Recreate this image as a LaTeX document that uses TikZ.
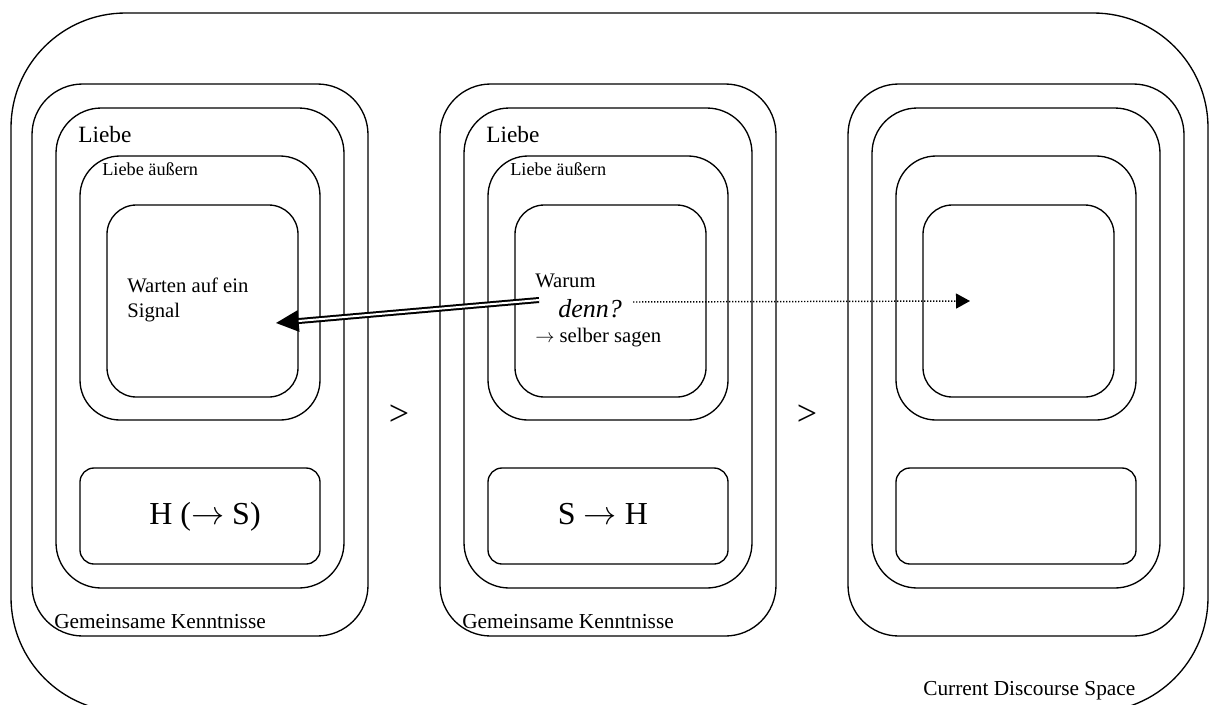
\documentclass[tikz,border=0pt]{standalone}
\usepackage{fontspec}
\setmainfont{Liberation Serif}
\usetikzlibrary{arrows.meta}

% sizes: 1 unit = 0.75pt, y grows downwards
\tikzset{
  frame/.style={draw, line width=1pt, rectangle, inner sep=0pt},
  spacebox/.style={frame, rounded corners=86pt, minimum width=897.75pt, minimum height=524.25pt},
  knowbox/.style={frame, rounded corners=38pt, minimum width=252pt, minimum height=414pt},
  lovebox/.style={frame, rounded corners=34pt, minimum width=216pt, minimum height=360pt},
  actbox/.style={frame, rounded corners=30pt, minimum width=180pt, minimum height=198pt},
  corebox/.style={frame, rounded corners=22pt, minimum width=143.25pt, minimum height=144pt},
  rolebox/.style={frame, rounded corners=10.5pt, minimum width=180pt, minimum height=72pt},
  lbl/.style={inner sep=0pt, anchor=base west},
  biglbl/.style={lbl, font=\fontsize{17.5}{21}\selectfont},
  smalllbl/.style={lbl, font=\fontsize{13.7}{16}\selectfont},
  midlbl/.style={lbl, font=\fontsize{15.5}{18.75}\selectfont},
  footlbl/.style={lbl, font=\fontsize{16}{19}\selectfont},
  rolelbl/.style={inner sep=0pt, anchor=base, font=\fontsize{24}{28}\selectfont},
  gt/.style={inner sep=0pt, font=\fontsize{27}{30}\selectfont},
  dblarrow/.style={line width=1.5pt, double distance=1.5pt, -{Triangle[length=17pt,width=16pt]}},
  dotarrow/.style={line width=1.1pt, dash pattern=on 1.1pt off 1.15pt, -{Triangle[length=10.5pt,width=11.25pt]}},
}
\newcommand{\tarrow}{$\rightarrow$}

\begin{document}
\begin{tikzpicture}[x=0.75pt, y=-0.75pt]
\useasboundingbox (0,0) rectangle (1209,704);

% current discourse space (its lower edge runs just below the page)
\node[spacebox] (cds) at (609.5,362.5) {};
\node[footlbl] (cdslbl) at (923,695) {Current Discourse Space};

% three stages, 408 units apart
\foreach \i/\dx in {1/0, 2/408, 3/816} {
  \node[knowbox] (know\i) at (200+\dx,360) {};
  \node[lovebox] (love\i) at (200+\dx,348) {};
  \node[actbox]  (act\i)  at (200+\dx,288) {};
  \node[corebox] (core\i) at (202.5+\dx,301) {};
  \node[rolebox] (role\i) at (200+\dx,516) {};
}

% labels of the first two stages
\foreach \i/\dx in {1/0, 2/408} {
  \node[biglbl]   (lovelbl\i) at (78+\dx,142) {Liebe};
  \node[smalllbl] (actlbl\i)  at (102+\dx,175) {Liebe äußern};
  \node[footlbl]  (knowlbl\i) at (54+\dx,628) {Gemeinsame Kenntnisse};
}

\node[rolelbl] (rolelbl1) at (205,524) {H (\tarrow\ S)};
\node[rolelbl] (rolelbl2) at (603,524) {S \tarrow\ H};

% ordering signs between the stages
\node[gt] (gt1) at (399,415) {>};
\node[gt] (gt2) at (807,415) {>};

% first stage: waiting
\node[midlbl, align=left] (wait) at (127,317) {Warten auf ein\\[-0.5pt]Signal};

% second stage: asking
\node[midlbl] (warum) at (535,287) {Warum};
\node[lbl, font=\fontsize{19.5}{23}\selectfont\itshape] (denn) at (558,317) {denn?};
\node[midlbl] (selber) at (535,342) {\tarrow\ selber sagen};

% connectors
\coordinate (dblstart) at (539,300);
\coordinate (waittip) at (276,323);
\draw[dblarrow] (dblstart) -- (waittip);

\coordinate (dotstart) at (633,302);
\coordinate (dottip) at (970,301);
\draw[dotarrow] (dotstart) -- (dottip);
\end{tikzpicture}
\end{document}
